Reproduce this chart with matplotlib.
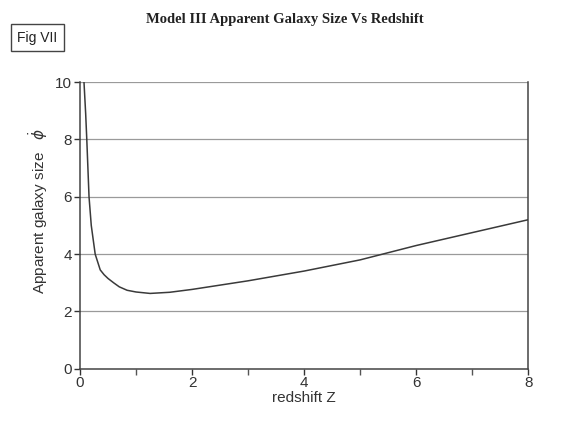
import numpy as np
import matplotlib
matplotlib.use('Agg')
import matplotlib.pyplot as plt

# values
redshift = [0.07, 0.1, 0.12, 0.16, 0.2, 0.27, 0.36, 0.43, 0.5, 0.6, 0.7,
            0.84, 1.0, 1.25, 1.6, 2.0, 3.0, 4.0, 5.0, 6.0, 7.0, 8.0]
size = [10.0, 8.9, 8.0, 6.0, 5.0, 4.0, 3.45, 3.28, 3.15, 3.0, 2.86,
        2.74, 2.68, 2.63, 2.67, 2.77, 3.07, 3.41, 3.8, 4.3, 4.75, 5.2]
xticks = [0, 2, 4, 6, 8]
yticks = [0, 2, 4, 6, 8, 10]

plt.rcParams['font.family'] = ['Liberation Sans', 'DejaVu Sans']

fig = plt.figure(figsize=(5.76, 4.23), dpi=100)
ax = fig.add_axes([0.139, 0.128, 0.778, 0.678])

for y in yticks[1:]:
    ax.axhline(y, color='#9a9a9a', lw=0.9, zorder=1)
ax.plot(redshift, size, color='#3a3a3a', lw=1.1, zorder=3)

ax.set_xlim(0, 8)
ax.set_ylim(0, 10)
ax.set_xticks(xticks)
ax.set_xticks(range(0, 9), minor=True)
ax.set_yticks(yticks)
ax.tick_params(axis='both', labelsize=11, colors='#333333', direction='out',
               length=4, width=1)
ax.tick_params(axis='x', pad=1)
ax.tick_params(axis='y', pad=2)
ax.tick_params(axis='x', which='minor', length=4, width=1, colors='#555555')
ax.spines['top'].set_visible(False)
for s in ['left', 'bottom', 'right']:
    ax.spines[s].set_color('#444444')
    ax.spines[s].set_linewidth(1.1)

ax.set_xlabel('redshift Z', fontsize=11, color='#333333', labelpad=1)
fig.text(0.066, 0.50, 'Apparent galaxy size   $\\dot{\\phi}$', rotation=90,
         ha='center', va='center', fontsize=11, color='#333333')

fig.text(0.495, 0.953, 'Model III Apparent Galaxy Size Vs Redshift',
         ha='center', va='center', fontsize=10.5, fontweight='bold',
         family='Liberation Serif', color='#222222')
fig.text(0.03, 0.911, 'Fig VII', ha='left', va='center', fontsize=10,
         color='#222222',
         bbox=dict(boxstyle='square,pad=0.45', fc='white', ec='#444444', lw=1))

fig.savefig('out.png', dpi=100)
